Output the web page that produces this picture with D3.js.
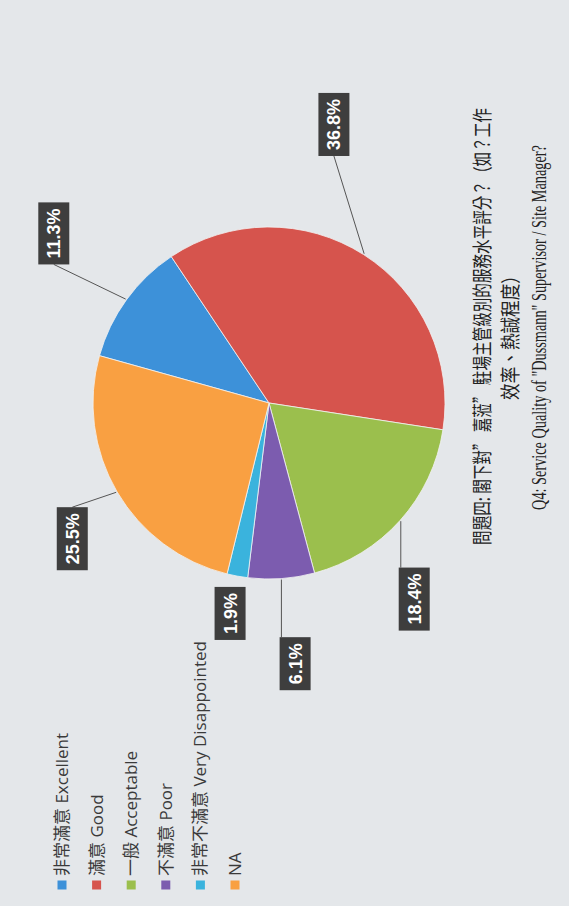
<!DOCTYPE html>
<html>
<head>
<meta charset="utf-8">
<script src="https://cdn.jsdelivr.net/npm/d3@7"></script>
<style>
  body { margin: 0; background: #e4e7ea; }
  svg { display: block; }
</style>
</head>
<body>
<svg width="569" height="906"></svg>
<script>
// chart data
const categories = ["非常滿意 Excellent", "滿意 Good", "一般 Acceptable", "不滿意 Poor", "非常不滿意 Very Disappointed", "NA"];
const percents = [11.3, 36.8, 18.4, 6.1, 1.9, 25.5];
const colors = ["#3d91d9", "#d6544d", "#9bbf4d", "#7c5caf", "#3ab3dd", "#f9a042"];
const titleLines = [
  "問題四: 閣下對” 嘉蒞” 駐場主管級別的服務水平評分？（如？工作",
  "效率、熱誠程度）",
  "Q4: Service Quality of \"Dussmann\" Supervisor / Site Manager?"
];

// layout (the page is a scan turned on its side, so we draw upright and rotate)
const W = 906, H = 569;
const cx = 503, cy = 269, R = 176;
const startDeg = 15.6;
const labelShift = [2.3, -19.4, 11.6, -1.7, 0.1, -4.3];   // degrees off slice middle
const labelDist = [274, 286, 244, 262, 214, 239];
const titlePos = [[579.5, 490, 437], [572.5, 518, 133], [578.5, 546, 365]];

const svg = d3.select("svg");
svg.append("rect").attr("width", 569).attr("height", 906).attr("fill", "#e4e7ea");

const g = svg.append("g").attr("transform", `translate(0,${W}) rotate(-90)`);

const rad = d => d * Math.PI / 180;
const polar = (a, r) => [r * Math.sin(a), -r * Math.cos(a)];

const pie = d3.pie().sort(null)
  .startAngle(rad(startDeg))
  .endAngle(rad(startDeg) + 2 * Math.PI);
const arcs = pie(percents);
const arc = d3.arc().innerRadius(0).outerRadius(R);

const pieG = g.append("g").attr("transform", `translate(${cx},${cy})`);

pieG.selectAll("path.slice")
  .data(arcs)
  .join("path")
  .attr("class", "slice")
  .attr("d", arc)
  .attr("fill", (d, i) => colors[i])
  .attr("stroke", "#f2f2f2")
  .attr("stroke-width", 0.8);

// data labels
const labels = pieG.selectAll("g.lab")
  .data(arcs)
  .join("g")
  .attr("class", "lab");

labels.each(function(d, i) {
  const mid = (d.startAngle + d.endAngle) / 2;
  const c = polar(mid + rad(labelShift[i]), labelDist[i]);
  const el = d3.select(this);

  const txt = el.append("text")
    .attr("x", c[0]).attr("y", c[1])
    .attr("dy", "0.36em")
    .attr("text-anchor", "middle")
    .attr("fill", "#ffffff")
    .attr("font-family", "'Liberation Sans', Arial, sans-serif")
    .attr("font-weight", "bold")
    .attr("font-size", 18)
    .text(percents[i].toFixed(1) + "%");

  const w = txt.node().getComputedTextLength() + 12, h = 31;
  const x0 = c[0] - w / 2, y0 = c[1] - h / 2;

  el.insert("rect", "text")
    .attr("x", x0).attr("y", y0)
    .attr("width", w).attr("height", h)
    .attr("fill", "#3e3e3e");

  // leader line: slice edge -> side of the box that faces the pie
  const s = polar(mid, R + 1);
  const ex = s[0] < x0 ? x0 : x0 + w;
  const ey = (s[1] >= y0 && s[1] <= y0 + h) ? s[1] : c[1];
  if (Math.hypot(ex - s[0], ey - s[1]) > 14) {
    el.insert("line", "rect")
      .attr("x1", s[0]).attr("y1", s[1])
      .attr("x2", ex).attr("y2", ey)
      .attr("stroke", "#555")
      .attr("stroke-width", 1);
  }
});

// legend
const ly = d3.scalePoint().domain(categories).range([62, 235]);
const legend = g.append("g").selectAll("g")
  .data(categories)
  .join("g")
  .attr("transform", d => `translate(16.5,${ly(d)})`);

legend.append("rect")
  .attr("x", 0).attr("y", -4.5)
  .attr("width", 9).attr("height", 9)
  .attr("fill", (d, i) => colors[i]);

legend.append("text")
  .attr("x", 13.5).attr("y", 6)
  .attr("fill", "#3a3a3a")
  .attr("font-family", "'Open Sans', 'Noto Sans CJK TC', sans-serif")
  .attr("font-size", 17)
  .text(d => d);

// title: the scan squeezes the glyphs along the line, so scale each line to its width
const titles = g.append("g").selectAll("text")
  .data(titleLines)
  .join("text")
  .attr("text-anchor", "middle")
  .attr("fill", "#222")
  .attr("font-family", (d, i) => i < 2 ? "'Noto Sans CJK TC', sans-serif" : "'Liberation Serif', 'Times New Roman', serif")
  .attr("font-size", 20)
  .text(d => d);

titles.each(function(d, i) {
  const len = this.getComputedTextLength();
  const sx = titlePos[i][2] / len;
  d3.select(this).attr("transform", `translate(${titlePos[i][0]},${titlePos[i][1]}) scale(${sx},1)`);
});
</script>
</body>
</html>
